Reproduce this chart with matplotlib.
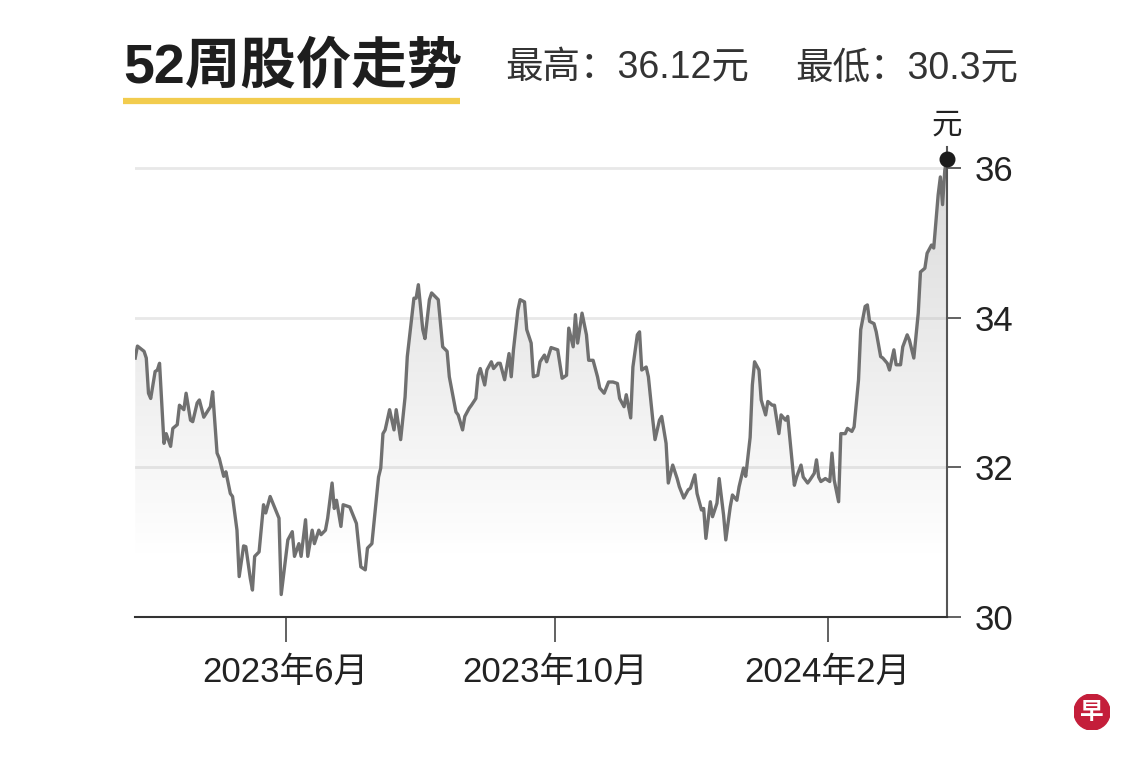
import numpy as np
import pandas as pd
import matplotlib
matplotlib.use('Agg')
import matplotlib.pyplot as plt
import matplotlib.dates as mdates
from matplotlib.lines import Line2D
from matplotlib.patches import Circle

plt.rcParams['font.family'] = ['Liberation Sans', 'Noto Sans CJK SC', 'DejaVu Sans']

# ---------------- data ----------------
base_date = '2023-03-24'
day_offsets = [
    1, 2, 5, 6, 7, 8, 10, 11, 12, 14, 15, 17, 18, 20, 21, 23, 24, 26, 27, 29,
    30, 32, 35, 36, 38, 39, 41, 42, 44, 45, 47, 48, 50, 51, 53, 54, 55, 57, 59, 60,
    62, 66, 67, 70, 72, 73, 75, 76, 78, 79, 81, 82, 84, 85, 87, 88, 90, 91, 92, 94,
    95, 98, 101, 103, 105, 106, 108, 111, 112, 113, 114, 116, 118, 119, 121, 123, 124, 127, 128, 129,
    131, 132, 134, 135, 138, 140, 142, 143, 146, 147, 149, 150, 152, 153, 155, 156, 157, 159, 160, 162,
    163, 165, 166, 168, 170, 171, 172, 174, 175, 177, 178, 180, 181, 183, 184, 186, 187, 189, 192, 194,
    196, 197, 199, 200, 201, 203, 205, 206, 208, 210, 211, 213, 215, 217, 219, 220, 222, 223, 225, 226,
    228, 229, 230, 232, 233, 235, 236, 238, 239, 241, 242, 244, 246, 247, 249, 251, 252, 254, 255, 257,
    258, 259, 261, 262, 264, 265, 267, 268, 270, 271, 273, 274, 276, 277, 279, 280, 281, 283, 284, 286,
    287, 289, 290, 292, 293, 295, 296, 297, 299, 300, 302, 303, 305, 306, 308, 309, 310, 311, 313, 315,
    316, 317, 319, 320, 322, 323, 325, 326, 328, 329, 331, 332, 333, 335, 336, 338, 339, 341, 342, 344,
    345, 347, 348, 350, 351, 353, 355, 356, 358, 359, 361, 362, 364, 365, 366, 367, 368,
]
prices = [
    33.46, 33.62, 33.55, 33.46, 32.99, 32.92, 33.28, 33.30, 33.39, 32.32, 32.45, 32.28, 32.52, 32.57, 32.83, 32.77, 32.99, 32.63, 32.61, 32.86,
    32.90, 32.67, 32.81, 33.01, 32.19, 32.12, 31.88, 31.94, 31.65, 31.61, 31.16, 30.54, 30.95, 30.94, 30.52, 30.36, 30.81, 30.87, 31.50, 31.39,
    31.61, 31.32, 30.30, 31.03, 31.14, 30.81, 30.98, 30.81, 31.30, 30.81, 31.16, 30.98, 31.16, 31.10, 31.16, 31.32, 31.79, 31.45, 31.56, 31.21,
    31.50, 31.47, 31.25, 30.67, 30.63, 30.92, 30.98, 31.87, 31.99, 32.45, 32.50, 32.77, 32.50, 32.77, 32.37, 32.94, 33.48, 34.26, 34.26, 34.44,
    33.84, 33.72, 34.24, 34.33, 34.24, 33.61, 33.55, 33.21, 32.74, 32.70, 32.50, 32.68, 32.79, 32.83, 32.92, 33.23, 33.32, 33.10, 33.30, 33.41,
    33.32, 33.39, 33.39, 33.17, 33.52, 33.21, 33.57, 34.10, 34.24, 34.21, 33.84, 33.66, 33.21, 33.23, 33.41, 33.50, 33.41, 33.60, 33.57, 33.19,
    33.23, 33.86, 33.61, 34.04, 33.66, 34.06, 33.77, 33.43, 33.43, 33.21, 33.06, 32.99, 33.14, 33.14, 33.12, 32.92, 32.81, 32.97, 32.66, 33.34,
    33.77, 33.81, 33.30, 33.34, 33.21, 32.63, 32.37, 32.63, 32.68, 32.32, 31.79, 32.03, 31.85, 31.74, 31.59, 31.70, 31.72, 31.90, 31.65, 31.43,
    31.45, 31.05, 31.54, 31.34, 31.52, 31.85, 31.36, 31.03, 31.47, 31.63, 31.56, 31.74, 31.99, 31.88, 32.40, 33.10, 33.41, 33.30, 32.90, 32.70,
    32.88, 32.83, 32.83, 32.45, 32.70, 32.63, 32.68, 32.37, 31.76, 31.87, 32.03, 31.87, 31.79, 31.83, 31.92, 32.10, 31.87, 31.81, 31.85, 31.81,
    32.19, 31.83, 31.54, 32.45, 32.45, 32.52, 32.48, 32.54, 33.17, 33.84, 34.15, 34.17, 33.95, 33.92, 33.81, 33.48, 33.46, 33.39, 33.30, 33.57,
    33.37, 33.37, 33.61, 33.77, 33.70, 33.46, 34.06, 34.61, 34.66, 34.86, 34.97, 34.93, 35.64, 35.88, 35.51, 35.97, 36.12,
]
tick_dates = ['2023-06-01', '2023-10-01', '2024-02-01']
tick_labels = ['2023年6月', '2023年10月', '2024年2月']
y_ticks = [30, 32, 34, 36]
title = '52周股价走势'
high_text = '最高：36.12元'
low_text = '最低：30.3元'
unit_text = '元'
logo_text = '早'

# ---------------- figure ----------------
W, H = 1140, 760
fig = plt.figure(figsize=(W / 100, H / 100), dpi=100)
fig.patch.set_facecolor('white')

ytop = 36.28
ax = fig.add_axes([135 / W, 1 - 617 / H, (947 - 135) / W, (617 - 147) / H])

dates = pd.Timestamp(base_date) + pd.to_timedelta(day_offsets, unit='D')
xnum = mdates.date2num(dates.to_pydatetime())
base_num = mdates.date2num(pd.Timestamp(base_date).to_pydatetime())
x0, x1 = base_num + 0.9, xnum[-1]

# gradient fill under line
ny = 400
yy = np.linspace(30, ytop, ny)
alpha = np.clip((yy - 30.8) / 5.5, 0, 1) * 0.48
img = np.zeros((ny, 2, 4))
img[..., :3] = 0.69
img[..., 3] = alpha[:, None]
im = ax.imshow(img, extent=[x0, x1, 30, ytop], origin='lower', aspect='auto',
               zorder=1, interpolation='bilinear')
poly = ax.fill_between(xnum, prices, 30, color='none', lw=0)
im.set_clip_path(poly.get_paths()[0], transform=ax.transData)

ax.plot(xnum, prices, color='#707070', lw=2.4, zorder=3, solid_joinstyle='round')
ax.plot([xnum[-1]], [prices[-1]], 'o', color='#1c1c1c', ms=10.5, zorder=5, clip_on=False)

ax.set_xlim(x0, x1)
ax.set_ylim(30, ytop)

# axes styling
for s in ['top', 'left']:
    ax.spines[s].set_visible(False)
ax.spines['bottom'].set_color('#333333')
ax.spines['bottom'].set_linewidth(1.5)
ax.spines['right'].set_color('#555555')
ax.spines['right'].set_linewidth(1.5)
ax.spines['bottom'].set_zorder(4)
ax.spines['right'].set_zorder(4)

ax.yaxis.tick_right()
ax.set_yticks(y_ticks)
ax.set_yticklabels([str(v) for v in y_ticks])
ax.tick_params(axis='y', length=10, width=1.3, color='#555555', labelsize=25,
               labelcolor='#222222', pad=10)
ax.yaxis.grid(True, color='#e8e8e8', lw=2)
ax.set_axisbelow(True)

ax.set_xticks(mdates.date2num(pd.to_datetime(tick_dates).to_pydatetime()))
ax.set_xticklabels(tick_labels)
ax.tick_params(axis='x', length=18, width=1.3, color='#555555', labelsize=25,
               labelcolor='#222222', pad=10)

# title block
fig.text(123 / W, 1 - 68 / H, title, fontsize=40, fontweight='heavy', color='#1e1e1e',
         va='center', ha='left')
fig.add_artist(Line2D([123 / W, 460 / W], [1 - 101 / H] * 2, color='#F2CC4E', lw=4.5,
                      solid_capstyle='butt'))
fig.text(505 / W, 1 - 68 / H, high_text, fontsize=27, color='#333333', va='center', ha='left')
fig.text(795 / W, 1 - 68 / H, low_text, fontsize=27, color='#333333', va='center', ha='left')

# unit label
fig.text(947 / W, 1 - 126 / H, unit_text, fontsize=22, color='#222222', va='center', ha='center')

# logo
lax = fig.add_axes([(1092 - 18) / W, 1 - (712 + 18) / H, 36 / W, 36 / H])
lax.set_xlim(0, 1)
lax.set_ylim(0, 1)
lax.axis('off')
lax.add_patch(Circle((0.5, 0.5), 0.5, color='#C41E3A'))
lax.text(0.5, 0.48, logo_text, color='white', fontsize=17, fontweight='bold',
         ha='center', va='center')

fig.savefig('out.png', dpi=100)
